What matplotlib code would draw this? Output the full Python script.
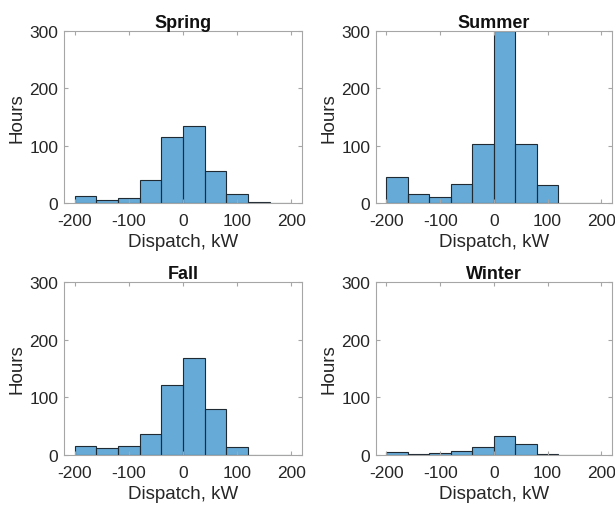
import matplotlib.pyplot as plt
import numpy as np

plt.rcParams['font.family'] = ['Liberation Sans', 'DejaVu Sans']
plt.rcParams['axes.unicode_minus'] = False

# bin edges of the dispatch histograms (kW)
edges = np.arange(-200, 201, 40)

spring = [12, 5, 9, 40, 115, 135, 56, 15, 2, 0]
summer = [46, 16, 10, 33, 102, 300, 103, 31, 0, 0]
fall = [15, 12, 15, 36, 121, 168, 79, 14, 0, 0]
winter = [5, 1, 3.5, 6.5, 14, 32, 19, 2, 0, 0]

seasons = ['Spring', 'Summer', 'Fall', 'Winter']
counts = [spring, summer, fall, winter]

positions = [
    [0.104, 0.597, 0.387, 0.340],
    [0.611, 0.597, 0.384, 0.340],
    [0.104, 0.099, 0.387, 0.342],
    [0.611, 0.099, 0.384, 0.342],
]

face = (0.0, 0.447, 0.741, 0.6)
edge = '#1f2a33'
axcol = '#a6a6a6'

fig = plt.figure(figsize=(6.15, 5.06), dpi=100)

for name, c, pos in zip(seasons, counts, positions):
    ax = fig.add_axes(pos)
    ax.bar(edges[:-1], c, width=np.diff(edges), align='edge',
           color=face, edgecolor=edge, linewidth=0.8)
    ax.set_xlim(-220, 220)
    ax.set_ylim(0, 300)
    ax.set_xticks([-200, -100, 0, 100, 200])
    ax.set_yticks([0, 100, 200, 300])
    ax.tick_params(direction='in', length=3, width=0.8, color=axcol,
                   labelsize=12.5, labelcolor='#262626', top=True, right=True)
    ax.tick_params(axis='x', pad=7)
    ax.tick_params(axis='y', pad=4)
    for s in ax.spines.values():
        s.set_color(axcol)
        s.set_linewidth(0.8)
    ax.set_title(name, fontsize=13, fontweight='bold', color='#111111', pad=3)
    ax.set_xlabel('Dispatch, kW', fontsize=13.5, color='#262626', labelpad=4)
    ax.set_ylabel('Hours', fontsize=13.5, color='#262626', labelpad=3)

fig.savefig('out.png', dpi=100)
